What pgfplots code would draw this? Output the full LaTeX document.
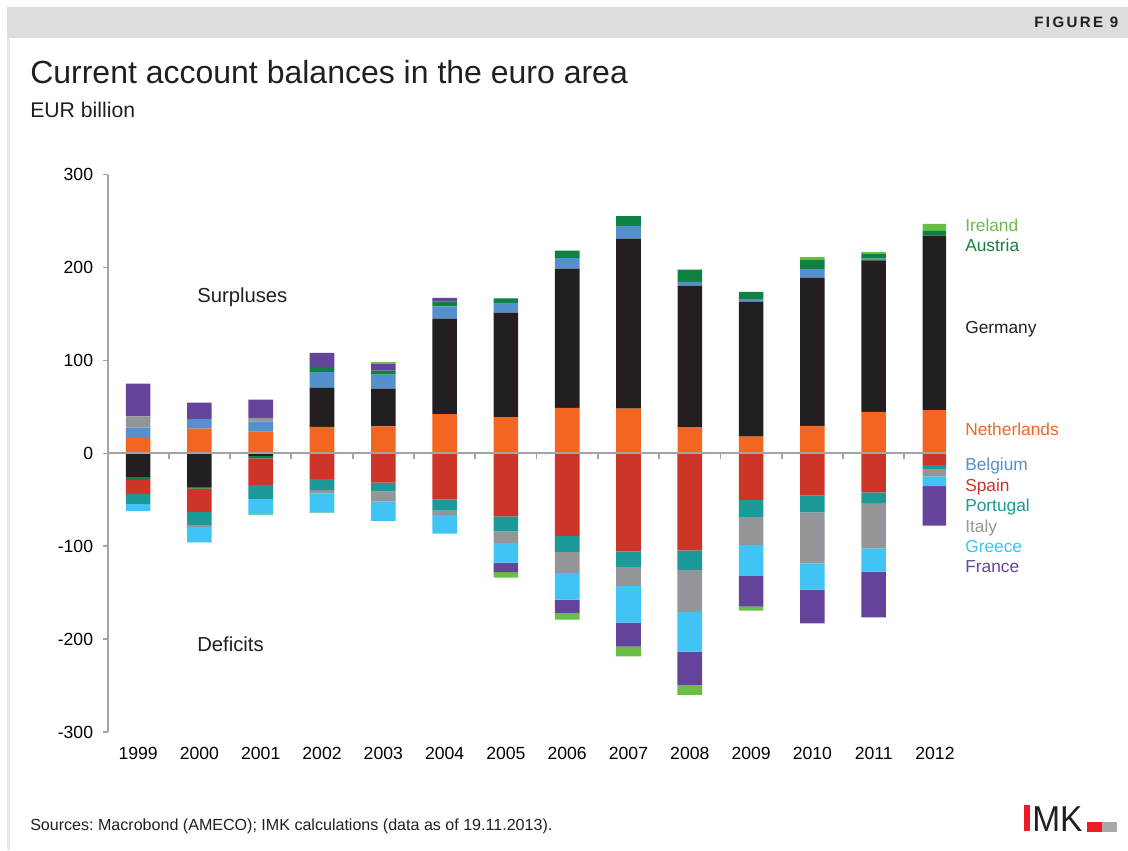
\documentclass[border=0pt]{standalone}
\usepackage{pgfplots}
\usepackage{pgfplotstable}
\pgfplotsset{compat=1.18}
\usepackage{fontspec}
\setmainfont{Liberation Sans}
\frenchspacing
\definecolor{cNeth}{HTML}{F36621}
\definecolor{cGer}{HTML}{231F20}
\definecolor{cBel}{HTML}{5490CC}
\definecolor{cSpa}{HTML}{CD3529}
\definecolor{cPor}{HTML}{1B9A98}
\definecolor{cIta}{HTML}{939598}
\definecolor{cGre}{HTML}{40C4F5}
\definecolor{cFra}{HTML}{64449B}
\definecolor{cIre}{HTML}{6ABD45}
\definecolor{cAus}{HTML}{0F8140}
\definecolor{cAxis}{HTML}{A3A4A6}
\definecolor{cHead}{HTML}{DCDDDE}
\definecolor{cLogoR}{HTML}{ED1C24}
\definecolor{cLogoG}{HTML}{A7A9AC}
\pgfplotstableread{
x Neth Ger Bel Ita Aus Fra Ire
0 16.5 0 11.1 12.2 0 35.2 0
1 26.6 0 10.4 0 0 17.5 0
2 23.3 0 10.8 3.9 0 19.8 0
3 28.3 42.0 16.9 0 5.7 15.1 0
4 29.0 40.6 15.1 0 4.3 7.5 1.5
5 42.0 103.0 13.2 0 5.1 3.9 0
6 38.8 112.6 10.4 0 5.0 0 0
7 48.8 150.0 11.1 0 8.2 0 0
8 48.1 183.0 13.3 0 10.8 0 0
9 28.0 152.5 3.9 0 13.3 0 0
10 17.9 145.3 2.9 0 7.6 0 0
11 29.4 159.7 9.3 0 9.7 0 2.9
12 44.5 163.2 1.8 0 4.7 0 2.2
13 46.3 188.0 0 0 5.0 0 7.6
}\postab
\pgfplotstableread{
x Ger Aus Spa Por Ita Gre Fra Ire
0 -25.5 -3.2 -15.4 -10.4 0 -7.5 0 0
1 -36.2 -1.8 -25.1 -14.0 -2.2 -16.5 0 -0.2
2 -2.9 -2.5 -29.0 -14.8 0 -16.5 0 -1.0
3 0 0 -27.6 -12.2 -3.3 -20.4 0 -0.7
4 0 0 -31.6 -9.3 -10.8 -21.1 0 0
5 0 0 -49.5 -12.2 -5.0 -19.8 0 0
6 0 0 -67.8 -16.2 -12.5 -21.2 -10.3 -5.8
7 0 0 -89.0 -17.2 -22.6 -28.7 -14.4 -7.1
8 0 0 -105.5 -16.8 -20.5 -39.5 -25.8 -10.4
9 0 0 -104.4 -21.2 -45.5 -42.4 -36.2 -10.4
10 0 0 -50.2 -18.3 -30.5 -33.0 -33.0 -4.4
11 0 0 -45.6 -17.9 -54.9 -28.3 -36.3 0
12 0 0 -42.0 -11.8 -48.5 -25.1 -49.1 0
13 0 0 -12.9 -4.0 -7.9 -10.7 -42.4 0
}\negtab
\pgfplotsset{
  base/.style={
    scale only axis, width=628.875pt, height=418.125pt,
    at={(80.625pt,-549pt)}, anchor=south west,
    xmin=-0.5, xmax=13.18, ymin=-300, ymax=300,
    ybar stacked, bar width=18.45pt,
    every axis plot/.append style={draw=none},
    /pgf/number format/assume math mode=true,
    tick label style={font=\fontsize{13.2}{15}\selectfont, text=black},
  }
}
\begin{document}
\begin{tikzpicture}[x=0.75pt,y=-0.75pt]
\path[use as bounding box] (0,0) rectangle (1128,850);
\fill[cHead] (7,7) rectangle (1128,38);
\fill[cHead!70!white] (7,38) rectangle (10,850);
\node[anchor=base east,font=\fontsize{11.3}{13}\selectfont\bfseries,text=cGer,inner sep=0pt] at (1118.5,27) {\addfontfeature{LetterSpace=16}FIGURE 9};
\node[anchor=base west,font=\fontsize{24}{28}\selectfont,text=cGer,inner sep=0pt] at (30,83) {Current account balances in the euro area};
\node[anchor=base west,font=\fontsize{15.9}{18}\selectfont,text=cGer,inner sep=0pt] at (30,117) {EUR billion};
\begin{axis}[base,
  axis x line=bottom, axis y line=left,
  x axis line style={draw=none,-},
  y axis line style={draw=cAxis,line width=1.5pt,-},
  xtick={0,...,13},
  xticklabels={1999,2000,2001,2002,2003,2004,2005,2006,2007,2008,2009,2010,2011,2012},
  ytick={-300,-200,-100,0,100,200,300},
  xtick style={draw=none}, 
  ytick style={draw=cAxis,line width=1.1pt},
  major tick length=3.5pt, tick align=outside,
  xticklabel style={yshift=-4.5pt},
  yticklabel style={xshift=-3.8pt},
]
\addplot[fill=cGer] table[x=x,y=Ger]{\negtab};
\addplot[fill=cAus] table[x=x,y=Aus]{\negtab};
\addplot[fill=cSpa] table[x=x,y=Spa]{\negtab};
\addplot[fill=cPor] table[x=x,y=Por]{\negtab};
\addplot[fill=cIta] table[x=x,y=Ita]{\negtab};
\addplot[fill=cGre] table[x=x,y=Gre]{\negtab};
\addplot[fill=cFra] table[x=x,y=Fra]{\negtab};
\addplot[fill=cIre] table[x=x,y=Ire]{\negtab};
\end{axis}
\begin{axis}[base,
  axis on top,
  axis x line=middle, axis y line=none,
  x axis line style={draw=cAxis,line width=1.5pt,-},
  xtick={-0.5,0.5,...,12.5},
  xticklabels={},
  ytick=\empty,
  xtick style={draw=cAxis,line width=1.4pt},
  major tick length=4.5pt, tick align=outside,
]
\addplot[fill=cNeth] table[x=x,y=Neth]{\postab};
\addplot[fill=cGer] table[x=x,y=Ger]{\postab};
\addplot[fill=cBel] table[x=x,y=Bel]{\postab};
\addplot[fill=cIta] table[x=x,y=Ita]{\postab};
\addplot[fill=cAus] table[x=x,y=Aus]{\postab};
\addplot[fill=cFra] table[x=x,y=Fra]{\postab};
\addplot[fill=cIre] table[x=x,y=Ire]{\postab};
\end{axis}
\begin{scope}[every node/.style={anchor=base west,inner sep=0pt,font=\fontsize{13}{15}\selectfont}]
\node[text=cGer,font=\fontsize{15.2}{17}\selectfont] at (197,302) {Surpluses};
\node[text=cGer,font=\fontsize{15.2}{17}\selectfont] at (197,651) {Deficits};
\node[text=cIre] at (965,231) {Ireland};
\node[text=cAus] at (965,251) {Austria};
\node[text=cGer] at (965,333) {Germany};
\node[text=cNeth] at (965,435) {Netherlands};
\node[text=cBel] at (965,470) {Belgium};
\node[text=cSpa] at (965,491) {Spain};
\node[text=cPor] at (965,511) {Portugal};
\node[text=cIta] at (965,532) {Italy};
\node[text=cGre] at (965,552) {Greece};
\node[text=cFra] at (965,572) {France};
\end{scope}
\node[anchor=base west,inner sep=0pt,font=\fontsize{12.05}{14}\selectfont,text=cGer] at (30,830) {Sources: Macrobond (AMECO); IMK calculations (data as of 19.11.2013).};
% logo
\fill[cLogoR] (1024,805) rectangle (1030,831);
\node[anchor=base west,inner sep=0pt,font=\fontsize{27}{30}\selectfont,text=cGer,xscale=0.93] at (1032,831) {MK};
\fill[cLogoR] (1087,822) rectangle (1102,832);
\fill[cLogoG] (1102,822) rectangle (1117,832);
\end{tikzpicture}
\end{document}
